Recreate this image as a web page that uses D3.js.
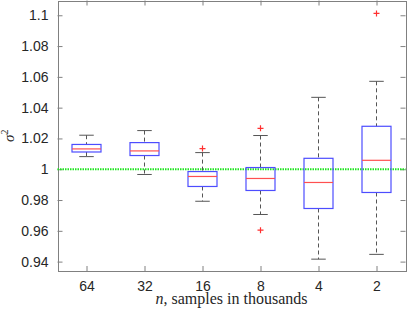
<!DOCTYPE html>
<html>
<head>
<meta charset="utf-8">
<script src="https://cdn.jsdelivr.net/npm/d3@7"></script>
<style>
  body { margin: 0; background: #fff; }
  svg { display: block; }
  .tick text { font-family: "Liberation Sans", Arial, sans-serif; font-size: 14px; fill: #262626; }
</style>
</head>
<body>
<div id="chart"></div>
<script>
// data
var groups = ["64", "32", "16", "8", "4", "2"];
var whiskerLow  = [1.0082, 0.9966, 0.9792, 0.9706, 0.9416, 0.9447];
var boxLow      = [1.0112, 1.0089, 0.9888, 0.9862, 0.9745, 0.9849];
var medians     = [1.0132, 1.0119, 0.9953, 0.9940, 0.9914, 1.0058];
var boxHigh     = [1.0161, 1.0173, 0.9985, 1.0011, 1.0071, 1.0279];
var whiskerHigh = [1.0221, 1.0251, 1.0108, 1.0219, 1.0467, 1.0571];
var outliers = [[], [], [1.0134], [1.0266, 0.9604], [], [1.1012]];
var yTicks = [0.94, 0.96, 0.98, 1, 1.02, 1.04, 1.06, 1.08, 1.1];
var refLine = 1;

var svgWidth = 407;
var svgHeight = 311;
var margin = { top: 0.5, right: 1.5, bottom: 40, left: 57.5 };
var width = svgWidth - margin.left - margin.right;
var height = svgHeight - margin.top - margin.bottom;

var svg = d3.select("#chart")
  .append("svg")
  .attr("width", svgWidth)
  .attr("height", svgHeight);

var chartGroup = svg.append("g")
  .attr("transform", `translate(${margin.left}, ${margin.top})`);

var xScale = d3.scalePoint()
  .domain(groups)
  .range([0, width])
  .padding(0.5);

var yScale = d3.scaleLinear()
  .domain([0.9339, 1.1096])
  .range([height, 0]);

var boxW = xScale.step() * 0.5;
var capW = boxW * 0.5;

// axes, all ticks pointing inward like matlab
var axisColor = "#808080";
function styleAxis(g) {
  g.select(".domain").attr("stroke", axisColor);
  g.selectAll(".tick line").attr("stroke", axisColor);
}

chartGroup.append("g")
  .attr("transform", `translate(0, ${height})`)
  .call(d3.axisBottom(xScale).tickSizeInner(-5).tickSizeOuter(0).tickPadding(10.5))
  .call(styleAxis);

chartGroup.append("g")
  .call(d3.axisTop(xScale).tickSizeInner(-5).tickSizeOuter(0).tickFormat(""))
  .call(styleAxis);

chartGroup.append("g")
  .call(d3.axisLeft(yScale).tickValues(yTicks).tickSizeInner(-5).tickSizeOuter(0)
    .tickPadding(9).tickFormat(d3.format("~g")))
  .call(styleAxis);

chartGroup.append("g")
  .attr("transform", `translate(${width}, 0)`)
  .call(d3.axisRight(yScale).tickValues(yTicks).tickSizeInner(-5).tickSizeOuter(0).tickFormat(""))
  .call(styleAxis);

svg.selectAll(".domain").attr("shape-rendering", "crispEdges");

// reference line at 1
chartGroup.append("line")
  .attr("x1", 0)
  .attr("x2", width)
  .attr("y1", yScale(refLine))
  .attr("y2", yScale(refLine))
  .attr("stroke", "#1ee61e")
  .attr("stroke-width", 2)
  .attr("stroke-dasharray", "1.5,1");

// boxes
var boxes = chartGroup.selectAll(".box")
  .data(groups)
  .enter()
  .append("g")
  .attr("class", "box")
  .attr("transform", d => `translate(${xScale(d)}, 0)`);

// whiskers
boxes.append("line")
  .attr("x1", 0).attr("x2", 0)
  .attr("y1", (d, i) => yScale(whiskerHigh[i]))
  .attr("y2", (d, i) => yScale(boxHigh[i]))
  .attr("stroke", "#555")
  .attr("stroke-dasharray", "4,3");

boxes.append("line")
  .attr("x1", 0).attr("x2", 0)
  .attr("y1", (d, i) => yScale(boxLow[i]))
  .attr("y2", (d, i) => yScale(whiskerLow[i]))
  .attr("stroke", "#555")
  .attr("stroke-dasharray", "4,3");

boxes.append("line")
  .attr("x1", -capW / 2).attr("x2", capW / 2)
  .attr("y1", (d, i) => yScale(whiskerHigh[i]))
  .attr("y2", (d, i) => yScale(whiskerHigh[i]))
  .attr("stroke", "#555");

boxes.append("line")
  .attr("x1", -capW / 2).attr("x2", capW / 2)
  .attr("y1", (d, i) => yScale(whiskerLow[i]))
  .attr("y2", (d, i) => yScale(whiskerLow[i]))
  .attr("stroke", "#555");

boxes.append("rect")
  .attr("x", -boxW / 2)
  .attr("width", boxW)
  .attr("y", (d, i) => yScale(boxHigh[i]))
  .attr("height", (d, i) => yScale(boxLow[i]) - yScale(boxHigh[i]))
  .attr("fill", "none")
  .attr("stroke", "#4d4dff")
  .attr("stroke-width", 1.2);

boxes.append("line")
  .attr("x1", -boxW / 2).attr("x2", boxW / 2)
  .attr("y1", (d, i) => yScale(medians[i]))
  .attr("y2", (d, i) => yScale(medians[i]))
  .attr("stroke", "#ff5050")
  .attr("stroke-width", 1.2);

// outliers as red plus signs
boxes.each(function(d, i) {
  var g = d3.select(this);
  outliers[i].forEach(function(v) {
    g.append("path")
      .attr("d", `M-3,${yScale(v)}H3M0,${yScale(v) - 3}V${yScale(v) + 3}`)
      .attr("stroke", "#ff3030")
      .attr("stroke-width", 1.2)
      .attr("fill", "none");
  });
});

// labels
var xLabel = svg.append("text")
  .attr("x", margin.left + width / 2)
  .attr("y", 304)
  .attr("text-anchor", "middle")
  .attr("font-family", "'Liberation Serif', serif")
  .attr("font-size", 16)
  .attr("fill", "#262626");
xLabel.append("tspan").attr("font-style", "italic").text("n");
xLabel.append("tspan").text(", samples in thousands");

var yLabel = svg.append("text")
  .attr("transform", `translate(14, ${margin.top + height / 2}) rotate(-90)`)
  .attr("text-anchor", "middle")
  .attr("font-family", "'Liberation Serif', serif")
  .attr("font-size", 15)
  .attr("fill", "#262626");
yLabel.append("tspan").attr("font-style", "italic").text("σ");
yLabel.append("tspan").attr("font-size", 10).attr("dy", -6).text("2");
</script>
</body>
</html>
